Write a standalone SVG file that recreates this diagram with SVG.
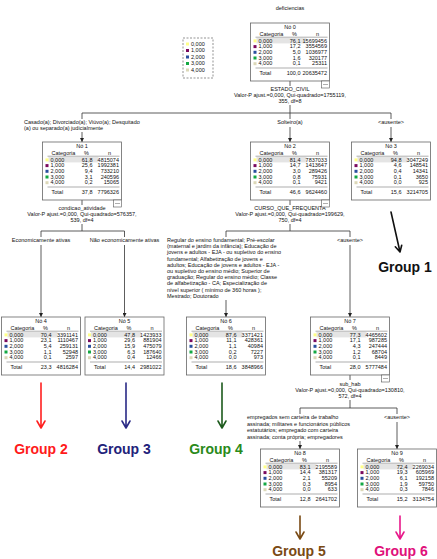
<svg xmlns="http://www.w3.org/2000/svg" xmlns:xlink="http://www.w3.org/1999/xlink" width="437" height="559" viewBox="0 0 437 559">
<style>
.t{font-family:"Liberation Sans",Arial,sans-serif;font-size:5.5px;fill:#111}
.m{text-anchor:middle}
.e{text-anchor:end}
.box{fill:#fff;stroke:#666;stroke-width:0.8}
.sep{stroke:#777;stroke-width:0.6;fill:none}
.hl{fill:#e4e4e4}
.c0{fill:#ffff88}.c1{fill:#7a0a5e}.c2{fill:#2a4f9e}.c3{fill:#13a843}.c4{fill:#dcd8b8}
.con{stroke:#333;stroke-width:0.8;fill:none}
.mb{fill:#fff;stroke:#555;stroke-width:0.6}
.g{font-family:"Liberation Sans",Arial,sans-serif;font-size:14px;font-weight:bold;text-anchor:middle}
.ga{fill:none;stroke-width:1.6;stroke-linecap:round;stroke-linejoin:round}
</style>
<defs>
<marker id="ah" viewBox="0 0 6 6" refX="6" refY="3" markerWidth="4" markerHeight="4" markerUnits="userSpaceOnUse" orient="auto"><path d="M0,0L6,3L0,6z" fill="#222"/></marker>
<g id="skel">
<rect class="box" width="79" height="58"/>
<path class="sep" d="M5 14.2H77M5 45H77"/>
<rect class="hl" x="6" y="15" width="50" height="5.4"/>
<rect class="c0" x="3" y="16.4" width="3" height="3"/>
<rect class="c1" x="3" y="22.1" width="3" height="3"/>
<rect class="c2" x="3" y="27.8" width="3" height="3"/>
<rect class="c3" x="3" y="33.5" width="3" height="3"/>
<rect class="c4" x="3" y="39.2" width="3" height="3"/>
</g>
<g id="minus"><rect class="mb" x="71" y="58" width="8" height="7"/><path class="sep" d="M72.5 61.5H77.5"/></g>
</defs>
<rect width="437" height="559" fill="#fff"/>

<text class="t m" x="290" y="10">deficiencias</text>

<g id="legend">
<rect x="183" y="38" width="30" height="40" fill="#fff" stroke="#666" stroke-width="0.7" stroke-dasharray="2,1.5"/>
<rect class="c0" x="186" y="42.5" width="3" height="3"/><text class="t" x="191" y="45.5">0,000</text>
<rect class="c1" x="186" y="49" width="3" height="3"/><text class="t" x="191" y="52">1,000</text>
<rect class="c2" x="186" y="55.5" width="3" height="3"/><text class="t" x="191" y="58.5">2,000</text>
<rect class="c3" x="186" y="62" width="3" height="3"/><text class="t" x="191" y="65">3,000</text>
<rect class="c4" x="186" y="68.5" width="3" height="3"/><text class="t" x="191" y="71.5">4,000</text>
</g>

<g id="connectors">
<path class="con" d="M290 81V86M290 105V113M82 113H391M82 113V119M290 113V119M391 113V119"/>
<path class="con" d="M82 132V142" marker-end="url(#ah)"/>
<path class="con" d="M290 127V142" marker-end="url(#ah)"/>
<path class="con" d="M391 127V142" marker-end="url(#ah)"/>
<path class="con" d="M82 200V205M82 224V231M41 231H124.5M41 231V237M124.5 231V237"/>
<path class="con" d="M41 245V317" marker-end="url(#ah)"/>
<path class="con" d="M124.5 245V317" marker-end="url(#ah)"/>
<path class="con" d="M290 200V205M290 224V231M226 231H350M226 231V237M350 231V237"/>
<path class="con" d="M226 300V317" marker-end="url(#ah)"/>
<path class="con" d="M350 245V317" marker-end="url(#ah)"/>
<path class="con" d="M350 375V380M350 400V408M300 408H397M300 408V414M397 408V414"/>
<path class="con" d="M300 441V449" marker-end="url(#ah)"/>
<path class="con" d="M397 422V449" marker-end="url(#ah)"/>
</g>

<g id="split-labels">
<text class="t m" x="290" y="91">ESTADO_CIVIL</text>
<text class="t m" x="290" y="97">Valor-P ajust.=0,000, Qui-quadrado=1755119,</text>
<text class="t m" x="290" y="103">355, df=8</text>
<text class="t" x="24" y="124">Casado(a); Divorciado(a); Viúvo(a); Desquitado</text>
<text class="t" x="24" y="130">(a) ou separado(a) judicialmente</text>
<text class="t m" x="290" y="124">Solteiro(a)</text>
<text class="t m" x="391" y="124">&lt;ausente&gt;</text>
<text class="t m" x="82" y="210">condicao_atividade</text>
<text class="t m" x="82" y="216">Valor-P ajust.=0,000, Qui-quadrado=576357,</text>
<text class="t m" x="82" y="222">539, df=4</text>
<text class="t m" x="290" y="210">CURSO_QUE_FREQUENTA</text>
<text class="t m" x="290" y="216">Valor-P ajust.=0,000, Qui-quadrado=199629,</text>
<text class="t m" x="290" y="222">750, df=4</text>
<text class="t m" x="41" y="242">Economicamente ativas</text>
<text class="t m" x="124.5" y="242">Não economicamente ativas</text>
<text class="t" x="167" y="242">Regular do ensino fundamental; Pré-escolar</text>
<text class="t" x="167" y="248.2">(maternal e jardim da infância); Educação de</text>
<text class="t" x="167" y="254.4">jovens e adultos - EJA - ou supletivo do ensino</text>
<text class="t" x="167" y="260.6">fundamental; Alfabetização de jovens e</text>
<text class="t" x="167" y="266.8">adultos; Educação de jovens e adultos - EJA -</text>
<text class="t" x="167" y="273">ou supletivo do ensino médio; Superior de</text>
<text class="t" x="167" y="279.2">graduação; Regular do ensino médio; Classe</text>
<text class="t" x="167" y="285.4">de alfabetização - CA; Especialização de</text>
<text class="t" x="167" y="291.6">nível superior ( mínimo de 360 horas );</text>
<text class="t" x="167" y="297.8">Mestrado; Doutorado</text>
<text class="t m" x="350" y="242">&lt;ausente&gt;</text>
<text class="t m" x="350" y="386">sub_hab</text>
<text class="t m" x="350" y="392">Valor-P ajust.=0,000, Qui-quadrado=130810,</text>
<text class="t m" x="350" y="398">572, df=4</text>
<text class="t" x="247" y="419">empregados sem carteira de trabalho</text>
<text class="t" x="247" y="425.5">assinada; militares e funcionários públicos</text>
<text class="t" x="247" y="432">estatutários; empregado com carteira</text>
<text class="t" x="247" y="438.5">assinada; conta própria; empregadores</text>
<text class="t m" x="397" y="419">&lt;ausente&gt;</text>
</g>

<g id="node0" transform="translate(250.5,23)">
<use xlink:href="#skel"/><use xlink:href="#minus"/>
<text class="t m" x="39.5" y="6">Nó 0</text>
<text class="t" x="9" y="12.5">Categoria</text><text class="t m" x="44" y="12.5">%</text><text class="t m" x="67" y="12.5">n</text>
<text class="t" x="8" y="19.6">0,000</text><text class="t e" x="50" y="19.6">76,1</text><text class="t e" x="76.5" y="19.6">15699456</text>
<text class="t" x="8" y="25.3">1,000</text><text class="t e" x="50" y="25.3">17,2</text><text class="t e" x="76.5" y="25.3">3554569</text>
<text class="t" x="8" y="31">2,000</text><text class="t e" x="50" y="31">5,0</text><text class="t e" x="76.5" y="31">1036977</text>
<text class="t" x="8" y="36.7">3,000</text><text class="t e" x="50" y="36.7">1,6</text><text class="t e" x="76.5" y="36.7">320177</text>
<text class="t" x="8" y="42.4">4,000</text><text class="t e" x="50" y="42.4">0,1</text><text class="t e" x="76.5" y="42.4">25311</text>
<text class="t" x="9" y="51.5">Total</text><text class="t e" x="50" y="51.5">100,0</text><text class="t e" x="76.5" y="51.5">20635472</text>
</g>

<g id="node1" transform="translate(42.5,142)">
<use xlink:href="#skel"/><use xlink:href="#minus"/>
<text class="t m" x="39.5" y="6">Nó 1</text>
<text class="t" x="9" y="12.5">Categoria</text><text class="t m" x="44" y="12.5">%</text><text class="t m" x="67" y="12.5">n</text>
<text class="t" x="8" y="19.6">0,000</text><text class="t e" x="50" y="19.6">61,8</text><text class="t e" x="76.5" y="19.6">4815074</text>
<text class="t" x="8" y="25.3">1,000</text><text class="t e" x="50" y="25.3">25,6</text><text class="t e" x="76.5" y="25.3">1992381</text>
<text class="t" x="8" y="31">2,000</text><text class="t e" x="50" y="31">9,4</text><text class="t e" x="76.5" y="31">733210</text>
<text class="t" x="8" y="36.7">3,000</text><text class="t e" x="50" y="36.7">3,1</text><text class="t e" x="76.5" y="36.7">240596</text>
<text class="t" x="8" y="42.4">4,000</text><text class="t e" x="50" y="42.4">0,2</text><text class="t e" x="76.5" y="42.4">15065</text>
<text class="t" x="9" y="51.5">Total</text><text class="t e" x="50" y="51.5">37,8</text><text class="t e" x="76.5" y="51.5">7796326</text>
</g>

<g id="node2" transform="translate(250.5,142)">
<use xlink:href="#skel"/><use xlink:href="#minus"/>
<text class="t m" x="39.5" y="6">Nó 2</text>
<text class="t" x="9" y="12.5">Categoria</text><text class="t m" x="44" y="12.5">%</text><text class="t m" x="67" y="12.5">n</text>
<text class="t" x="8" y="19.6">0,000</text><text class="t e" x="50" y="19.6">81,4</text><text class="t e" x="76.5" y="19.6">7837033</text>
<text class="t" x="8" y="25.3">1,000</text><text class="t e" x="50" y="25.3">14,7</text><text class="t e" x="76.5" y="25.3">1413647</text>
<text class="t" x="8" y="31">2,000</text><text class="t e" x="50" y="31">3,0</text><text class="t e" x="76.5" y="31">289426</text>
<text class="t" x="8" y="36.7">3,000</text><text class="t e" x="50" y="36.7">0,8</text><text class="t e" x="76.5" y="36.7">75931</text>
<text class="t" x="8" y="42.4">4,000</text><text class="t e" x="50" y="42.4">0,1</text><text class="t e" x="76.5" y="42.4">9421</text>
<text class="t" x="9" y="51.5">Total</text><text class="t e" x="50" y="51.5">46,6</text><text class="t e" x="76.5" y="51.5">9624460</text>
</g>

<g id="node3" transform="translate(351.5,142)">
<use xlink:href="#skel"/>
<text class="t m" x="39.5" y="6">Nó 3</text>
<text class="t" x="9" y="12.5">Categoria</text><text class="t m" x="44" y="12.5">%</text><text class="t m" x="67" y="12.5">n</text>
<text class="t" x="8" y="19.6">0,000</text><text class="t e" x="50" y="19.6">94,8</text><text class="t e" x="76.5" y="19.6">3047249</text>
<text class="t" x="8" y="25.3">1,000</text><text class="t e" x="50" y="25.3">4,6</text><text class="t e" x="76.5" y="25.3">148541</text>
<text class="t" x="8" y="31">2,000</text><text class="t e" x="50" y="31">0,4</text><text class="t e" x="76.5" y="31">14341</text>
<text class="t" x="8" y="36.7">3,000</text><text class="t e" x="50" y="36.7">0,1</text><text class="t e" x="76.5" y="36.7">3650</text>
<text class="t" x="8" y="42.4">4,000</text><text class="t e" x="50" y="42.4">0,0</text><text class="t e" x="76.5" y="42.4">925</text>
<text class="t" x="9" y="51.5">Total</text><text class="t e" x="50" y="51.5">15,6</text><text class="t e" x="76.5" y="51.5">3214705</text>
</g>

<g id="node4" transform="translate(1.5,317)">
<use xlink:href="#skel"/>
<text class="t m" x="39.5" y="6">Nó 4</text>
<text class="t" x="9" y="12.5">Categoria</text><text class="t m" x="44" y="12.5">%</text><text class="t m" x="67" y="12.5">n</text>
<text class="t" x="8" y="19.6">0,000</text><text class="t e" x="50" y="19.6">70,4</text><text class="t e" x="76.5" y="19.6">3391141</text>
<text class="t" x="8" y="25.3">1,000</text><text class="t e" x="50" y="25.3">23,1</text><text class="t e" x="76.5" y="25.3">1110467</text>
<text class="t" x="8" y="31">2,000</text><text class="t e" x="50" y="31">5,4</text><text class="t e" x="76.5" y="31">259131</text>
<text class="t" x="8" y="36.7">3,000</text><text class="t e" x="50" y="36.7">1,1</text><text class="t e" x="76.5" y="36.7">52948</text>
<text class="t" x="8" y="42.4">4,000</text><text class="t e" x="50" y="42.4">0,1</text><text class="t e" x="76.5" y="42.4">2597</text>
<text class="t" x="9" y="51.5">Total</text><text class="t e" x="50" y="51.5">23,3</text><text class="t e" x="76.5" y="51.5">4816284</text>
</g>

<g id="node5" transform="translate(85,317)">
<use xlink:href="#skel"/>
<text class="t m" x="39.5" y="6">Nó 5</text>
<text class="t" x="9" y="12.5">Categoria</text><text class="t m" x="44" y="12.5">%</text><text class="t m" x="67" y="12.5">n</text>
<text class="t" x="8" y="19.6">0,000</text><text class="t e" x="50" y="19.6">47,8</text><text class="t e" x="76.5" y="19.6">1423933</text>
<text class="t" x="8" y="25.3">1,000</text><text class="t e" x="50" y="25.3">29,6</text><text class="t e" x="76.5" y="25.3">881904</text>
<text class="t" x="8" y="31">2,000</text><text class="t e" x="50" y="31">15,9</text><text class="t e" x="76.5" y="31">475079</text>
<text class="t" x="8" y="36.7">3,000</text><text class="t e" x="50" y="36.7">6,3</text><text class="t e" x="76.5" y="36.7">187640</text>
<text class="t" x="8" y="42.4">4,000</text><text class="t e" x="50" y="42.4">0,4</text><text class="t e" x="76.5" y="42.4">12466</text>
<text class="t" x="9" y="51.5">Total</text><text class="t e" x="50" y="51.5">14,4</text><text class="t e" x="76.5" y="51.5">2981022</text>
</g>

<g id="node6" transform="translate(186.5,317)">
<use xlink:href="#skel"/>
<text class="t m" x="39.5" y="6">Nó 6</text>
<text class="t" x="9" y="12.5">Categoria</text><text class="t m" x="44" y="12.5">%</text><text class="t m" x="67" y="12.5">n</text>
<text class="t" x="8" y="19.6">0,000</text><text class="t e" x="50" y="19.6">87,6</text><text class="t e" x="76.5" y="19.6">3371421</text>
<text class="t" x="8" y="25.3">1,000</text><text class="t e" x="50" y="25.3">11,1</text><text class="t e" x="76.5" y="25.3">428361</text>
<text class="t" x="8" y="31">2,000</text><text class="t e" x="50" y="31">1,1</text><text class="t e" x="76.5" y="31">40984</text>
<text class="t" x="8" y="36.7">3,000</text><text class="t e" x="50" y="36.7">0,2</text><text class="t e" x="76.5" y="36.7">7227</text>
<text class="t" x="8" y="42.4">4,000</text><text class="t e" x="50" y="42.4">0,0</text><text class="t e" x="76.5" y="42.4">973</text>
<text class="t" x="9" y="51.5">Total</text><text class="t e" x="50" y="51.5">18,6</text><text class="t e" x="76.5" y="51.5">3848966</text>
</g>

<g id="node7" transform="translate(310.5,317)">
<use xlink:href="#skel"/><use xlink:href="#minus"/>
<text class="t m" x="39.5" y="6">Nó 7</text>
<text class="t" x="9" y="12.5">Categoria</text><text class="t m" x="44" y="12.5">%</text><text class="t m" x="67" y="12.5">n</text>
<text class="t" x="8" y="19.6">0,000</text><text class="t e" x="50" y="19.6">77,3</text><text class="t e" x="76.5" y="19.6">4465602</text>
<text class="t" x="8" y="25.3">1,000</text><text class="t e" x="50" y="25.3">17,1</text><text class="t e" x="76.5" y="25.3">987285</text>
<text class="t" x="8" y="31">2,000</text><text class="t e" x="50" y="31">4,3</text><text class="t e" x="76.5" y="31">247444</text>
<text class="t" x="8" y="36.7">3,000</text><text class="t e" x="50" y="36.7">1,2</text><text class="t e" x="76.5" y="36.7">68704</text>
<text class="t" x="8" y="42.4">4,000</text><text class="t e" x="50" y="42.4">0,1</text><text class="t e" x="76.5" y="42.4">8449</text>
<text class="t" x="9" y="51.5">Total</text><text class="t e" x="50" y="51.5">28,0</text><text class="t e" x="76.5" y="51.5">5777484</text>
</g>

<g id="node8" transform="translate(260.5,449)">
<use xlink:href="#skel"/>
<text class="t m" x="39.5" y="6">Nó 8</text>
<text class="t" x="9" y="12.5">Categoria</text><text class="t m" x="44" y="12.5">%</text><text class="t m" x="67" y="12.5">n</text>
<text class="t" x="8" y="19.6">0,000</text><text class="t e" x="50" y="19.6">83,1</text><text class="t e" x="76.5" y="19.6">2195589</text>
<text class="t" x="8" y="25.3">1,000</text><text class="t e" x="50" y="25.3">14,4</text><text class="t e" x="76.5" y="25.3">381317</text>
<text class="t" x="8" y="31">2,000</text><text class="t e" x="50" y="31">2,1</text><text class="t e" x="76.5" y="31">55209</text>
<text class="t" x="8" y="36.7">3,000</text><text class="t e" x="50" y="36.7">0,3</text><text class="t e" x="76.5" y="36.7">8954</text>
<text class="t" x="8" y="42.4">4,000</text><text class="t e" x="50" y="42.4">0,0</text><text class="t e" x="76.5" y="42.4">633</text>
<text class="t" x="9" y="51.5">Total</text><text class="t e" x="50" y="51.5">12,8</text><text class="t e" x="76.5" y="51.5">2641702</text>
</g>

<g id="node9" transform="translate(357.5,449)">
<use xlink:href="#skel"/>
<text class="t m" x="39.5" y="6">Nó 9</text>
<text class="t" x="9" y="12.5">Categoria</text><text class="t m" x="44" y="12.5">%</text><text class="t m" x="67" y="12.5">n</text>
<text class="t" x="8" y="19.6">0,000</text><text class="t e" x="50" y="19.6">72,4</text><text class="t e" x="76.5" y="19.6">2269034</text>
<text class="t" x="8" y="25.3">1,000</text><text class="t e" x="50" y="25.3">19,3</text><text class="t e" x="76.5" y="25.3">605969</text>
<text class="t" x="8" y="31">2,000</text><text class="t e" x="50" y="31">6,1</text><text class="t e" x="76.5" y="31">192158</text>
<text class="t" x="8" y="36.7">3,000</text><text class="t e" x="50" y="36.7">1,9</text><text class="t e" x="76.5" y="36.7">59750</text>
<text class="t" x="8" y="42.4">4,000</text><text class="t e" x="50" y="42.4">0,3</text><text class="t e" x="76.5" y="42.4">7846</text>
<text class="t" x="9" y="51.5">Total</text><text class="t e" x="50" y="51.5">15,2</text><text class="t e" x="76.5" y="51.5">3134754</text>
</g>

<g id="group1">
<path class="ga" stroke="#111" d="M391 212L400 252M395.3 246.8L400 252L401.7 245.2"/>
<text class="g" x="405" y="272" fill="#111">Group 1</text>
</g>
<g id="group2">
<path class="ga" stroke="#ff2020" d="M41 383V428M37 421L41 428L45 421"/>
<text class="g" x="41" y="454" fill="#ff1a1a">Group 2</text>
</g>
<g id="group3">
<path class="ga" stroke="#2a2a86" d="M126 383V428M122 421L126 428L130 421"/>
<text class="g" x="124" y="454" fill="#22227a">Group 3</text>
</g>
<g id="group4">
<path class="ga" stroke="#1d5a1d" d="M222 383V428M218 421L222 428L226 421"/>
<text class="g" x="216" y="454" fill="#2a8a1a">Group 4</text>
</g>
<g id="group5">
<path class="ga" stroke="#7a4a14" d="M300 516V539M296 532L300 539L304 532"/>
<text class="g" x="299" y="556" fill="#7a4a14">Group 5</text>
</g>
<g id="group6">
<path class="ga" stroke="#e8188a" d="M400 516V539M396 532L400 539L404 532"/>
<text class="g" x="401" y="556" fill="#e0107a">Group 6</text>
</g>
</svg>
